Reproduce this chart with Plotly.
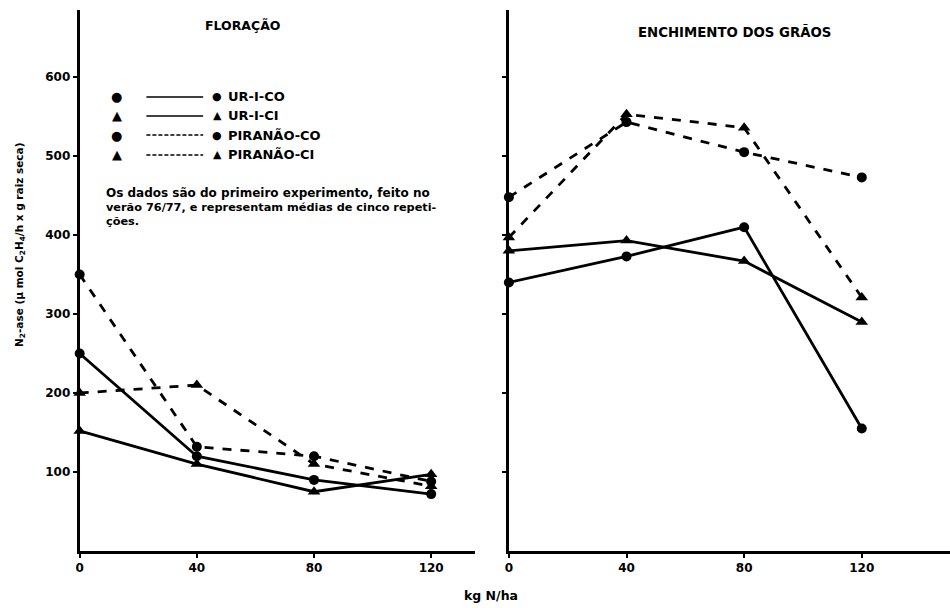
import plotly.graph_objects as go

# ---- data ----
doses = [0, 40, 80, 120]
series_names = ["UR-I-CO", "UR-I-CI", "PIRANÃO-CO", "PIRANÃO-CI"]

flor_ur_co = [250, 120, 90, 72]
flor_ur_ci = [152, 110, 75, 97]
flor_pir_co = [350, 132, 120, 88]
flor_pir_ci = [200, 210, 110, 82]

ench_ur_co = [340, 373, 410, 155]
ench_ur_ci = [380, 393, 367, 290]
ench_pir_co = [448, 543, 505, 473]
ench_pir_ci = [397, 553, 536, 321]

y_ticks = [100, 200, 300, 400, 500, 600]
x_ticks = [0, 40, 80, 120]

note_lines = [
    "Os dados são do primeiro experimento, feito no",
    "verão 76/77, e representam médias de cinco repeti-",
    "ções.",
]

styles = {
    "UR-I-CO": dict(dash="solid", symbol="circle"),
    "UR-I-CI": dict(dash="solid", symbol="triangle-up"),
    "PIRANÃO-CO": dict(dash="dash", symbol="circle"),
    "PIRANÃO-CI": dict(dash="dash", symbol="triangle-up"),
}

FONT = "DejaVu Sans"
fig = go.Figure()

panels = [
    ("x", "y", [flor_ur_co, flor_ur_ci, flor_pir_co, flor_pir_ci]),
    ("x2", "y2", [ench_ur_co, ench_ur_ci, ench_pir_co, ench_pir_ci]),
]
for xa, ya, data in panels:
    for name, vals in zip(series_names, data):
        st = styles[name]
        fig.add_trace(go.Scatter(
            x=doses, y=vals, xaxis=xa, yaxis=ya, mode="lines+markers",
            name=name, showlegend=False, cliponaxis=False,
            line=dict(color="black", width=2.8, dash=st["dash"]),
            marker=dict(symbol=st["symbol"], color="black",
                        size=10 if st["symbol"] == "circle" else 11),
        ))

axis_common = dict(showline=True, linecolor="black", linewidth=3, showgrid=False,
                   zeroline=False, ticks="outside", ticklen=4, tickwidth=1.5,
                   tickcolor="black",
                   tickfont=dict(family=FONT, size=12, color="black"))

def bold(vals):
    return ["<b>%d</b>" % v for v in vals]

fig.update_layout(
    width=950, height=608, plot_bgcolor="white", paper_bgcolor="white",
    margin=dict(l=0, r=0, t=0, b=0),
    xaxis=dict(domain=[0.08, 0.498], range=[0, 135], tickvals=x_ticks,
               ticktext=bold(x_ticks), anchor="y", **axis_common),
    yaxis=dict(domain=[0.0938, 0.9836], range=[0, 685], tickvals=y_ticks,
               ticktext=bold(y_ticks), anchor="x", **axis_common),
    xaxis2=dict(domain=[0.5337, 1.0], range=[0, 150], tickvals=x_ticks,
                ticktext=bold(x_ticks), anchor="y2", **axis_common),
    yaxis2=dict(domain=[0.0938, 0.9836], range=[0, 685], tickvals=y_ticks,
                showticklabels=False, anchor="x2", **axis_common),
)

ann = []
def txt(x, y, s, size=11, xanchor="center", textangle=0):
    ann.append(dict(x=x / 950, y=1 - y / 608, xref="paper", yref="paper", text=s,
                    showarrow=False, xanchor=xanchor, yanchor="middle",
                    align="left", textangle=textangle,
                    font=dict(family=FONT, size=size, color="black")))

txt(240, 26, "<b>FLORAÇÃO</b>", size=12.5)
txt(734, 32, "<b>ENCHIMENTO DOS GRÃOS</b>", size=13.3)
txt(489, 595, "<b>kg N/ha</b>", size=12.5)
txt(16, 245,
    "<b>N<sub>2</sub>-ase (μ mol C<sub>2</sub>H<sub>4</sub>/h x g raiz seca)</b>",
    size=10.5, textangle=-90)

# legend (drawn manually)
leg_y = [97, 116, 135, 155]
for name, yy in zip(series_names, leg_y):
    st = styles[name]
    is_circle = st["symbol"] == "circle"
    glyph = "●" if is_circle else "▲"
    txt(113, yy, glyph, size=13)
    txt(214, yy, glyph, size=11)
    txt(223, yy, "<b>" + name + "</b>", size=13, xanchor="left")
    fig.add_shape(type="line", xref="paper", yref="paper",
                  x0=143 / 950, x1=200 / 950, y0=1 - yy / 608, y1=1 - yy / 608,
                  line=dict(color="black", width=1.4,
                            dash="solid" if st["dash"] == "solid" else "4px,2px"))

for line, yy, sz in zip(note_lines, [193, 208, 222], [12, 11.3, 11.3]):
    txt(100, yy, "<b>" + line + "</b>", size=sz, xanchor="left")

fig.update_layout(annotations=ann)
fig.write_html("out.html")
